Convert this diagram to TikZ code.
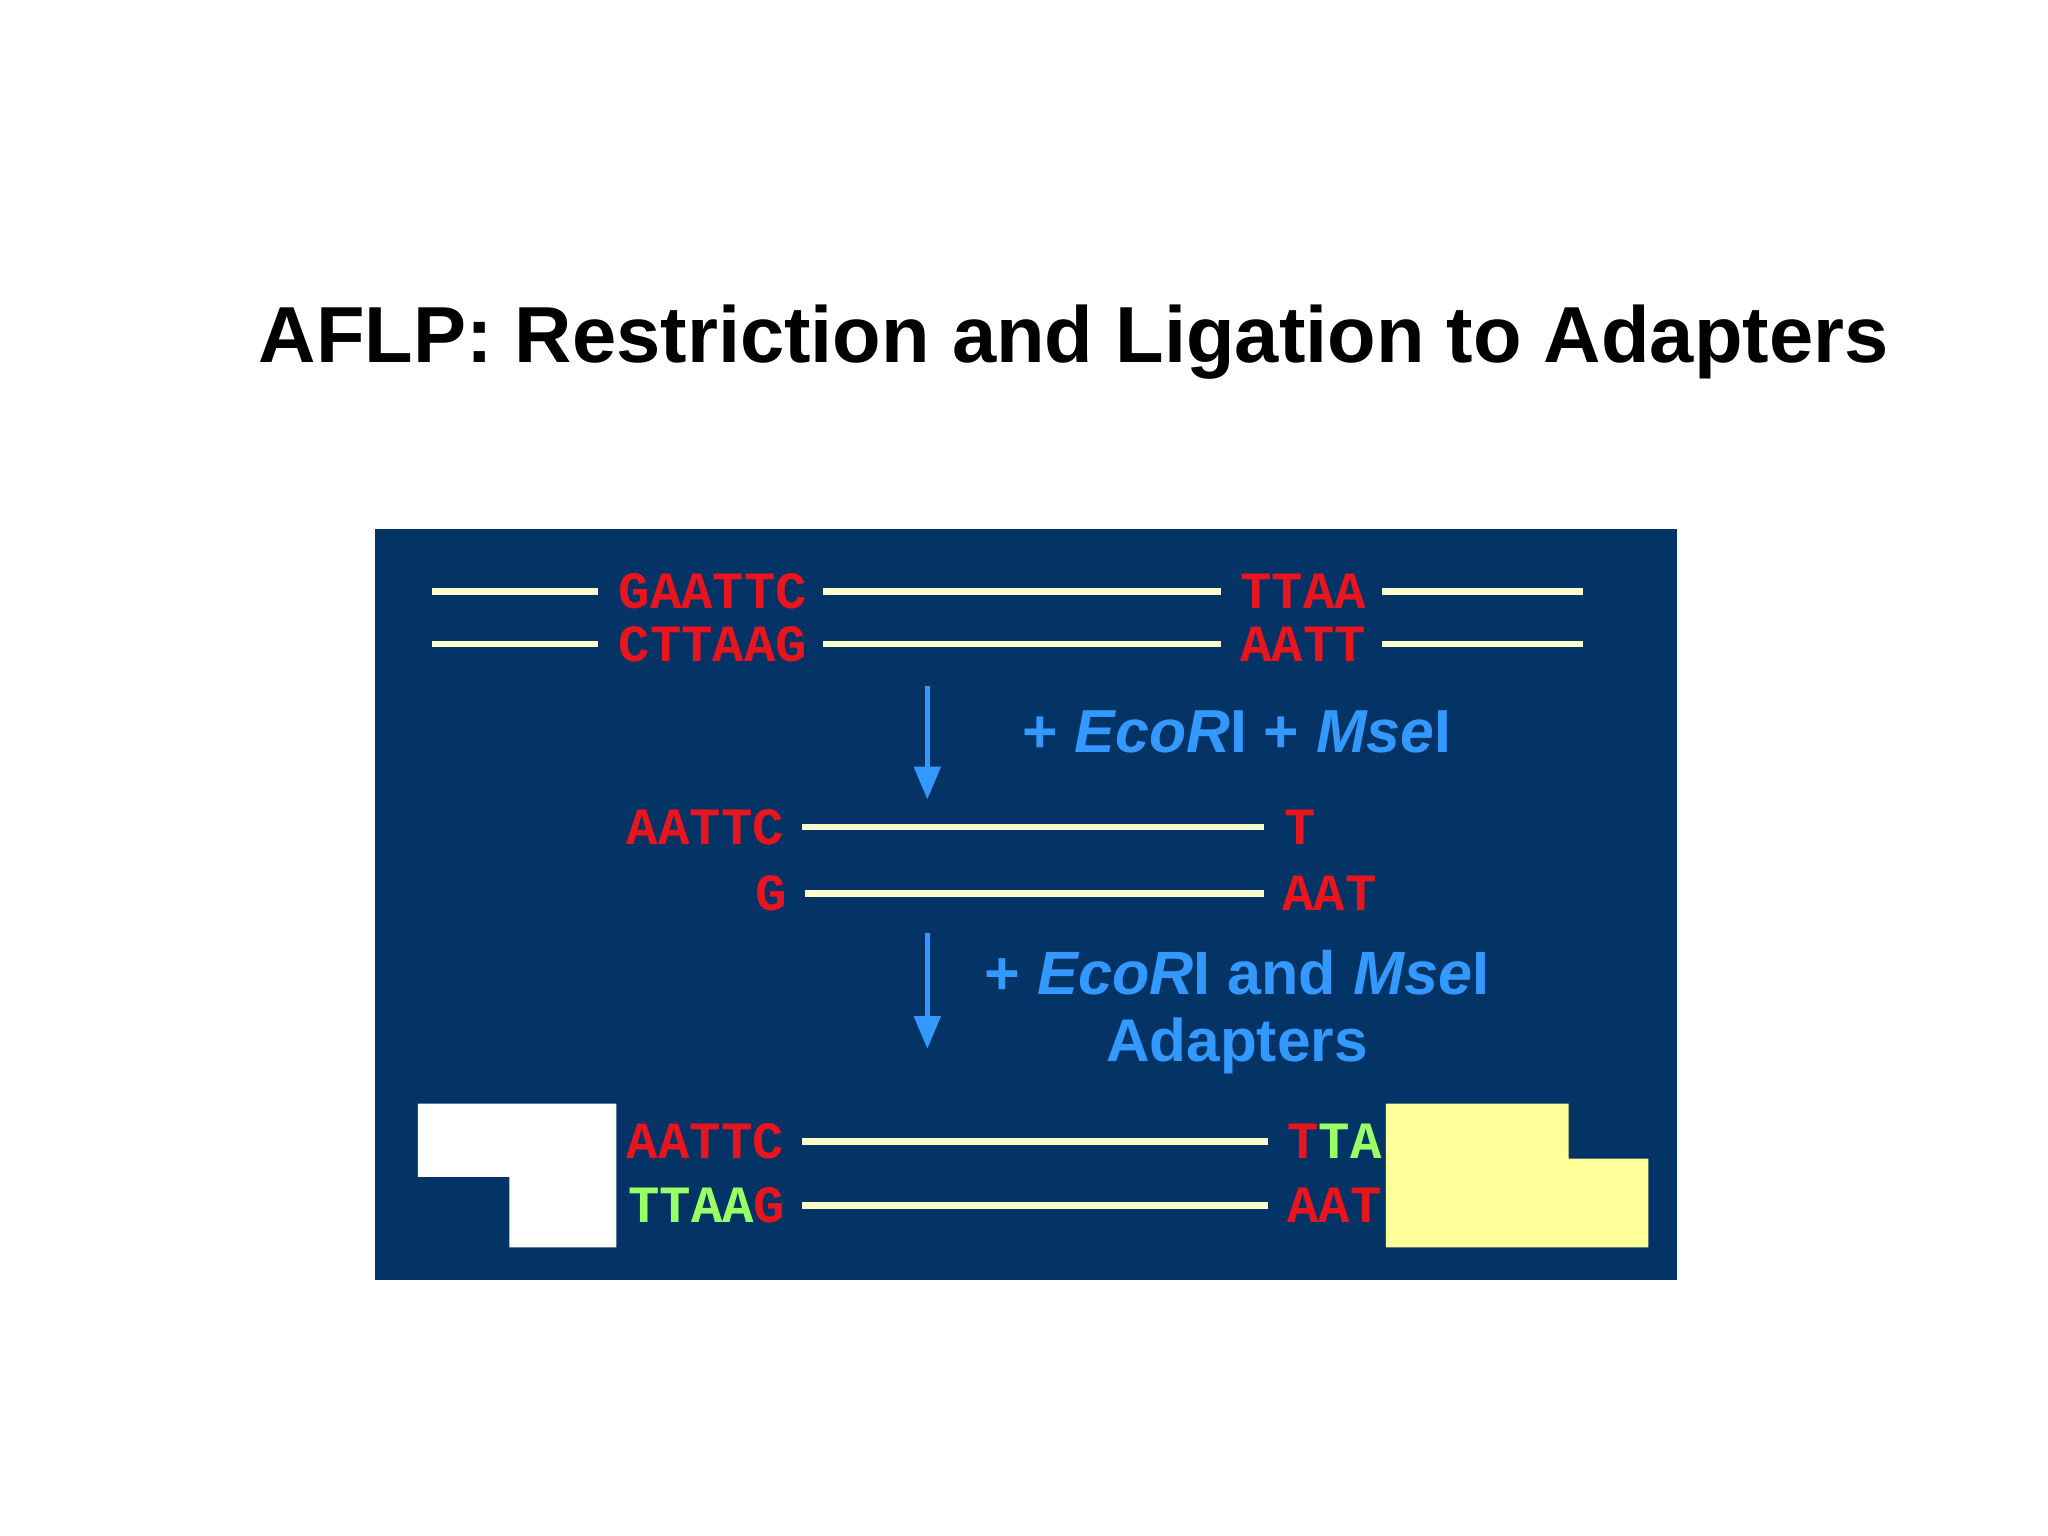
\documentclass[tikz,border=0pt]{standalone}
\usepackage{fontspec}
\usetikzlibrary{arrows.meta}
\setmainfont{Liberation Sans}
\newfontfamily\monob{Liberation Mono}
\definecolor{navy}{HTML}{043366}
\definecolor{cream}{HTML}{FFFFCC}
\definecolor{dred}{HTML}{E8141E}
\definecolor{lblue}{HTML}{3399FF}
\definecolor{lgreen}{HTML}{99FF66}
\definecolor{ylw}{HTML}{FFFF99}
\begin{document}
\begin{tikzpicture}[x=0.01cm,y=-0.01cm,
  dna/.style={draw=cream,line width=0.05cm},
  seq/.style={inner sep=0pt,font=\monob\fontsize{11.4}{12}\selectfont\bfseries,text=dred},
  lab/.style={inner sep=0pt,text=lblue,font=\bfseries},
  arr/.style={draw=lblue,line width=0.035cm,-{Triangle[length=0.25cm,width=0.2cm]}}]
\useasboundingbox (0,0) rectangle (1568,1176);
\fill[white] (0,0) rectangle (1568,1176);
\node[inner sep=0pt] (title) at (822,262) {\resizebox{12.47cm}{!}{\bfseries AFLP: Restriction and Ligation to Adapters}};
\fill[navy] (287,405) rectangle (1284,980);
% row 1/2
\foreach \y/\a/\b in {453/GAATTC/TTAA,493/CTTAAG/AATT}{
  \draw[dna] (331,\y) -- (458,\y);
  \node[seq,anchor=west] at (473,\y) {\a};
  \draw[dna] (630,\y) -- (935,\y);
  \node[seq,anchor=west] at (949,\y) {\b};
  \draw[dna] (1058,\y) -- (1212,\y);
}
\coordinate (a1s) at (710,525); \coordinate (a1e) at (710,612);
\draw[arr] (a1s) -- (a1e);
\node[lab] (l1) at (947,560) {\resizebox{3.28cm}{!}{+ \textit{EcoR}I + \textit{Mse}I}};
% row 3/4
\node[seq,anchor=east] (s3a) at (601,633) {AATTC};
\draw[dna] (614,633) -- (968,633);
\node[seq,anchor=west] (s3b) at (983,633) {T};
\node[seq,anchor=east] (s4a) at (603,684) {G};
\draw[dna] (616,684) -- (968,684);
\node[seq,anchor=west] (s4b) at (981,684) {AAT};
\coordinate (a2s) at (710,714); \coordinate (a2e) at (710,803);
\draw[arr] (a2s) -- (a2e);
\node[lab] (l2) at (947,745) {\resizebox{3.86cm}{!}{+ \textit{EcoR}I and \textit{Mse}I}};
\node[lab] (l3) at (947,801) {\resizebox{2.0cm}{!}{Adapters}};
% adapters
\fill[white] (320,845) -- (472,845) -- (472,955) -- (390,955) -- (390,901) -- (320,901) -- cycle;
\fill[ylw] (1061,845) -- (1201,845) -- (1201,887) -- (1262,887) -- (1262,955) -- (1061,955) -- cycle;
\node[seq,anchor=east] (s5a) at (601,874) {AATTC};
\draw[dna] (614,874) -- (971,874);
\node[seq,anchor=west] (s5b) at (985,874) {T\textcolor{lgreen}{TA}};
\node[seq,anchor=east] (s6a) at (602,923) {\textcolor{lgreen}{TTAA}G};
\draw[dna] (614,923) -- (971,923);
\node[seq,anchor=west] (s6b) at (985,923) {AAT};
\end{tikzpicture}
\end{document}
